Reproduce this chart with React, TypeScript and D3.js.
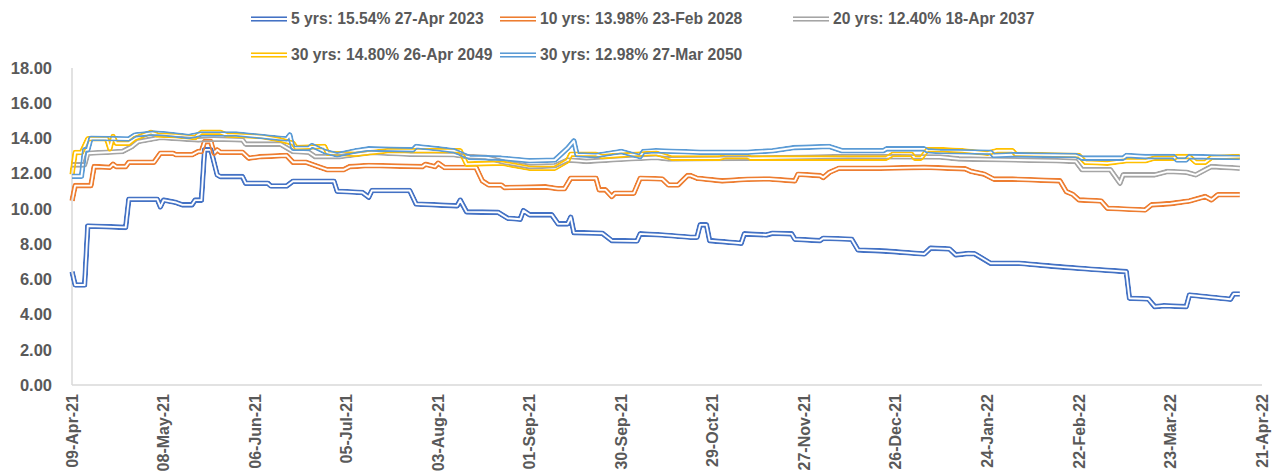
import React from "react";
import * as d3 from "d3";

// ---------- data ----------
const tickDates = [
  "2021-04-09", "2021-05-08", "2021-06-06", "2021-07-05", "2021-08-03", "2021-09-01", "2021-09-30",
  "2021-10-29", "2021-11-27", "2021-12-26", "2022-01-24", "2022-02-22", "2022-03-23", "2022-04-21",
];
const yTicks = [0, 2, 4, 6, 8, 10, 12, 14, 16, 18];

const seriesNames = [
  "5 yrs: 15.54% 27-Apr 2023",
  "10 yrs: 13.98% 23-Feb 2028",
  "20 yrs: 12.40% 18-Apr 2037",
  "30 yrs: 14.80% 26-Apr 2049",
  "30 yrs: 12.98% 27-Mar 2050",
];
const seriesColors = ["#4472C4", "#ED7D31", "#A5A5A5", "#FFC000", "#5B9BD5"];

const yrs5: [string, number][] = [
  ["2021-04-09", 6.44], ["2021-04-10", 5.68], ["2021-04-13", 5.68], ["2021-04-14", 9.03], ["2021-04-26", 8.95],
  ["2021-04-27", 10.55], ["2021-05-06", 10.55], ["2021-05-07", 10.11], ["2021-05-08", 10.5], ["2021-05-12", 10.36],
  ["2021-05-14", 10.23], ["2021-05-17", 10.23], ["2021-05-18", 10.5], ["2021-05-20", 10.5], ["2021-05-21", 13.35],
  ["2021-05-23", 13.35], ["2021-05-25", 11.93], ["2021-05-26", 11.83], ["2021-06-02", 11.83], ["2021-06-03", 11.46],
  ["2021-06-10", 11.46], ["2021-06-11", 11.3], ["2021-06-16", 11.3], ["2021-06-18", 11.57], ["2021-07-01", 11.57],
  ["2021-07-02", 11.0], ["2021-07-10", 10.93], ["2021-07-12", 10.66], ["2021-07-13", 11.04], ["2021-07-25", 11.04],
  ["2021-07-27", 10.28], ["2021-08-09", 10.17], ["2021-08-10", 10.5], ["2021-08-12", 9.83], ["2021-08-22", 9.8],
  ["2021-08-25", 9.47], ["2021-08-29", 9.41], ["2021-08-30", 9.9], ["2021-09-01", 9.66], ["2021-09-08", 9.66],
  ["2021-09-10", 9.15], ["2021-09-13", 9.15], ["2021-09-14", 9.53], ["2021-09-15", 8.65], ["2021-09-24", 8.62],
  ["2021-09-27", 8.2], ["2021-10-05", 8.18], ["2021-10-06", 8.58], ["2021-10-13", 8.52], ["2021-10-22", 8.39],
  ["2021-10-24", 8.39], ["2021-10-25", 9.09], ["2021-10-27", 9.09], ["2021-10-28", 8.2], ["2021-11-07", 8.05],
  ["2021-11-08", 8.58], ["2021-11-15", 8.52], ["2021-11-17", 8.62], ["2021-11-23", 8.58], ["2021-11-24", 8.28],
  ["2021-12-02", 8.2], ["2021-12-03", 8.33], ["2021-12-12", 8.28], ["2021-12-14", 7.67], ["2021-12-23", 7.6],
  ["2022-01-04", 7.44], ["2022-01-06", 7.77], ["2022-01-12", 7.72], ["2022-01-14", 7.39], ["2022-01-18", 7.47],
  ["2022-01-20", 7.45], ["2022-01-25", 6.91], ["2022-02-03", 6.91], ["2022-02-15", 6.72], ["2022-02-26", 6.57],
  ["2022-03-09", 6.44], ["2022-03-10", 4.93], ["2022-03-16", 4.88], ["2022-03-18", 4.45], ["2022-03-21", 4.5],
  ["2022-03-28", 4.45], ["2022-03-29", 5.11], ["2022-04-11", 4.87], ["2022-04-12", 5.17], ["2022-04-14", 5.17],
];

const yrs10: [string, number][] = [
  ["2021-04-09", 10.45], ["2021-04-10", 11.32], ["2021-04-15", 11.32], ["2021-04-16", 12.4], ["2021-04-21", 12.36],
  ["2021-04-22", 12.54], ["2021-04-23", 12.4], ["2021-04-26", 12.4], ["2021-04-27", 12.65], ["2021-05-05", 12.65],
  ["2021-05-07", 13.16], ["2021-05-11", 13.16], ["2021-05-12", 13.07], ["2021-05-17", 13.07], ["2021-05-19", 13.26],
  ["2021-05-20", 13.26], ["2021-05-21", 13.82], ["2021-05-23", 13.82], ["2021-05-24", 13.16], ["2021-05-25", 13.35],
  ["2021-05-26", 13.22], ["2021-06-02", 13.22], ["2021-06-04", 12.88], ["2021-06-08", 12.97], ["2021-06-16", 13.03],
  ["2021-06-18", 12.65], ["2021-06-22", 12.65], ["2021-06-26", 12.4], ["2021-06-29", 12.22], ["2021-07-04", 12.22],
  ["2021-07-06", 12.4], ["2021-07-12", 12.46], ["2021-07-29", 12.4], ["2021-07-30", 12.53], ["2021-08-02", 12.4],
  ["2021-08-03", 12.6], ["2021-08-05", 12.35], ["2021-08-15", 12.35], ["2021-08-17", 11.59], ["2021-08-19", 11.36],
  ["2021-08-23", 11.36], ["2021-08-24", 11.21], ["2021-09-06", 11.25], ["2021-09-10", 11.14], ["2021-09-12", 11.14],
  ["2021-09-14", 11.74], ["2021-09-22", 11.74], ["2021-09-23", 11.08], ["2021-09-25", 11.08], ["2021-09-27", 10.7],
  ["2021-09-28", 10.89], ["2021-10-04", 10.89], ["2021-10-06", 11.74], ["2021-10-13", 11.7], ["2021-10-15", 11.36],
  ["2021-10-18", 11.36], ["2021-10-21", 11.89], ["2021-10-22", 11.89], ["2021-10-24", 11.74], ["2021-11-01", 11.59],
  ["2021-11-09", 11.68], ["2021-11-16", 11.7], ["2021-11-24", 11.59], ["2021-11-25", 11.97], ["2021-12-02", 11.89],
  ["2021-12-03", 11.78], ["2021-12-05", 12.08], ["2021-12-08", 12.31], ["2021-12-21", 12.31], ["2022-01-04", 12.36],
  ["2022-01-17", 12.27], ["2022-01-19", 12.12], ["2022-01-23", 11.97], ["2022-01-26", 11.69], ["2022-02-01", 11.69],
  ["2022-02-16", 11.59], ["2022-02-18", 10.98], ["2022-02-20", 10.83], ["2022-02-22", 10.51], ["2022-03-01", 10.45],
  ["2022-03-03", 10.04], ["2022-03-15", 9.94], ["2022-03-17", 10.23], ["2022-03-23", 10.3], ["2022-03-29", 10.45],
  ["2022-04-03", 10.7], ["2022-04-05", 10.51], ["2022-04-07", 10.8], ["2022-04-14", 10.8],
];

const yrs20: [string, number][] = [
  ["2021-04-09", 12.5], ["2021-04-13", 12.5], ["2021-04-14", 13.16], ["2021-04-25", 13.26], ["2021-04-28", 13.54],
  ["2021-04-30", 13.82], ["2021-05-07", 14.05], ["2021-05-19", 13.92], ["2021-05-24", 13.97], ["2021-06-02", 13.92],
  ["2021-06-03", 13.68], ["2021-06-14", 13.68], ["2021-06-18", 13.26], ["2021-06-23", 13.22], ["2021-06-25", 12.97],
  ["2021-07-03", 12.97], ["2021-07-13", 13.2], ["2021-07-25", 13.1], ["2021-08-08", 13.07], ["2021-08-12", 12.97],
  ["2021-08-18", 12.93], ["2021-08-24", 12.65], ["2021-09-01", 12.4], ["2021-09-09", 12.45], ["2021-09-13", 12.78],
  ["2021-09-19", 12.7], ["2021-09-30", 12.82], ["2021-10-11", 12.92], ["2021-10-15", 12.84], ["2021-11-10", 12.88],
  ["2021-12-11", 12.97], ["2022-01-09", 12.95], ["2022-01-15", 12.84], ["2022-02-15", 12.73], ["2022-02-21", 12.7],
  ["2022-02-23", 12.22], ["2022-03-04", 12.22], ["2022-03-07", 11.46], ["2022-03-08", 11.93], ["2022-03-18", 11.93],
  ["2022-03-22", 12.12], ["2022-03-28", 12.08], ["2022-03-31", 11.93], ["2022-04-03", 12.22], ["2022-04-05", 12.4],
  ["2022-04-14", 12.31],
];

const yrs30a: [string, number][] = [
  ["2021-04-09", 11.95], ["2021-04-10", 13.2], ["2021-04-12", 13.2], ["2021-04-14", 13.98], ["2021-04-20", 13.98],
  ["2021-04-21", 13.41], ["2021-04-22", 14.11], ["2021-04-23", 13.73], ["2021-04-27", 13.73], ["2021-04-29", 14.01],
  ["2021-05-04", 14.35], ["2021-05-06", 14.2], ["2021-05-12", 14.15], ["2021-05-18", 14.05], ["2021-05-20", 14.35],
  ["2021-05-26", 14.35], ["2021-05-28", 14.2], ["2021-06-08", 14.11], ["2021-06-14", 13.92], ["2021-06-18", 13.73],
  ["2021-06-19", 13.48], ["2021-06-28", 13.54], ["2021-06-29", 13.16], ["2021-07-08", 13.1], ["2021-07-18", 13.3],
  ["2021-08-10", 13.3], ["2021-08-12", 12.54], ["2021-08-23", 12.6], ["2021-09-01", 12.31], ["2021-09-09", 12.31],
  ["2021-09-13", 12.73], ["2021-09-14", 13.1], ["2021-09-22", 13.1], ["2021-09-24", 12.97], ["2021-10-02", 13.07],
  ["2021-10-11", 13.16], ["2021-10-16", 12.88], ["2021-10-31", 12.88], ["2021-11-02", 12.97], ["2021-11-09", 12.97],
  ["2021-11-10", 12.88], ["2021-12-23", 12.88], ["2021-12-25", 13.1], ["2021-12-31", 13.1], ["2022-01-01", 12.88],
  ["2022-01-03", 12.88], ["2022-01-05", 13.35], ["2022-01-10", 13.35], ["2022-01-16", 13.3], ["2022-01-24", 13.16],
  ["2022-01-27", 13.3], ["2022-02-01", 13.3], ["2022-02-02", 13.1], ["2022-02-22", 13.03], ["2022-02-24", 12.65],
  ["2022-03-03", 12.6], ["2022-03-09", 12.73], ["2022-03-15", 12.73], ["2022-03-18", 12.88], ["2022-03-24", 12.88],
  ["2022-03-25", 12.97], ["2022-03-29", 12.97], ["2022-03-31", 12.65], ["2022-04-03", 12.65], ["2022-04-05", 12.92],
  ["2022-04-14", 12.97],
];

const yrs30b: [string, number][] = [
  ["2021-04-09", 11.85], ["2021-04-12", 11.85], ["2021-04-13", 13.35], ["2021-04-14", 13.35], ["2021-04-15", 14.01],
  ["2021-04-27", 13.97], ["2021-04-29", 14.2], ["2021-05-05", 14.3], ["2021-05-09", 14.25], ["2021-05-16", 14.11],
  ["2021-05-20", 14.25], ["2021-05-31", 14.25], ["2021-06-08", 14.11], ["2021-06-16", 13.97], ["2021-06-17", 14.2],
  ["2021-06-18", 13.44], ["2021-06-23", 13.44], ["2021-06-24", 13.6], ["2021-06-28", 13.26], ["2021-07-02", 13.07],
  ["2021-07-08", 13.3], ["2021-07-12", 13.41], ["2021-07-26", 13.35], ["2021-07-27", 13.54], ["2021-08-03", 13.41],
  ["2021-08-08", 13.3], ["2021-08-13", 12.92], ["2021-08-23", 12.88], ["2021-09-01", 12.73], ["2021-09-09", 12.78],
  ["2021-09-13", 13.44], ["2021-09-15", 13.86], ["2021-09-16", 13.07], ["2021-09-22", 13.03], ["2021-09-30", 13.26],
  ["2021-10-06", 12.97], ["2021-10-07", 13.26], ["2021-10-11", 13.3], ["2021-10-25", 13.22], ["2021-11-09", 13.22],
  ["2021-11-17", 13.3], ["2021-11-24", 13.48], ["2021-12-05", 13.54], ["2021-12-09", 13.3], ["2021-12-22", 13.3],
  ["2021-12-23", 13.41], ["2022-01-04", 13.41], ["2022-01-05", 13.3], ["2022-01-09", 13.26], ["2022-01-25", 13.22],
  ["2022-01-26", 13.03], ["2022-02-01", 13.07], ["2022-02-21", 13.03], ["2022-02-23", 12.88], ["2022-03-08", 12.88],
  ["2022-03-09", 13.03], ["2022-03-15", 12.97], ["2022-03-24", 12.97], ["2022-03-25", 12.78], ["2022-03-28", 12.78],
  ["2022-03-29", 12.97], ["2022-04-14", 12.92],
];

const seriesData = [yrs5, yrs10, yrs20, yrs30a, yrs30b];

// ---------- layout ----------
const W = 1277;
const H = 476;
const margin = { left: 72, right: 15, top: 68, bottom: 91 };
const FONT = "'Liberation Sans', Arial, sans-serif";
const TEXT = "#595959";
const AXIS = "#D9D9D9";
const OUTER = 5.6;
const INNER = 1.9;

const parse = d3.timeParse("%Y-%m-%d");
const fmtTick = d3.timeFormat("%d-%b-%y");

export default function App() {
  const x = d3
    .scaleTime()
    .domain([parse(tickDates[0])!, parse(tickDates[tickDates.length - 1])!])
    .range([margin.left, W - margin.right]);
  const y = d3.scaleLinear().domain([0, 18]).range([H - margin.bottom, margin.top]);

  const line = d3
    .line<[string, number]>()
    .x((d) => x(parse(d[0])!))
    .y((d) => y(d[1]));

  const y0 = y(0);

  // legend grid
  const legendCols = [251, 500, 793];
  const legendRows = [19, 55];

  return (
    <svg
      width={W}
      height={H}
      style={{ position: "fixed", left: 0, top: 0, display: "block", background: "#fff" }}
      fontFamily={FONT}
    >
      <defs>
        {seriesData.map((s, i) => (
          <mask key={i} id={`m${i}`} maskUnits="userSpaceOnUse" x={0} y={0} width={W} height={H}>
            <path d={line(s) || ""} fill="none" stroke="#fff" strokeWidth={OUTER} strokeLinejoin="round" />
            <path d={line(s) || ""} fill="none" stroke="#000" strokeWidth={INNER} strokeLinejoin="round" />
          </mask>
        ))}
        {seriesData.map((s, i) => (
          <mask key={"l" + i} id={`lm${i}`} maskUnits="userSpaceOnUse" x={0} y={0} width={W} height={H}>
            <line
              x1={legendCols[i % 3]}
              x2={legendCols[i % 3] + 36}
              y1={legendRows[Math.floor(i / 3)]}
              y2={legendRows[Math.floor(i / 3)]}
              stroke="#fff"
              strokeWidth={OUTER}
            />
            <line
              x1={legendCols[i % 3] - 1}
              x2={legendCols[i % 3] + 37}
              y1={legendRows[Math.floor(i / 3)]}
              y2={legendRows[Math.floor(i / 3)]}
              stroke="#000"
              strokeWidth={INNER}
            />
          </mask>
        ))}
      </defs>

      {/* axes lines */}
      <line x1={margin.left} x2={margin.left} y1={margin.top} y2={y0} stroke={AXIS} strokeWidth={1.5} />
      <line x1={margin.left} x2={W - margin.right} y1={y0} y2={y0} stroke={AXIS} strokeWidth={1.5} />

      {/* y tick labels */}
      {yTicks.map((t) => (
        <text
          key={t}
          x={52}
          y={y(t)}
          dy="0.35em"
          textAnchor="end"
          fontSize={16.5}
          fontWeight="bold"
          fill={TEXT}
        >
          {t.toFixed(2)}
        </text>
      ))}

      {/* x tick labels */}
      {tickDates.map((t) => {
        const px = x(parse(t)!);
        return (
          <text
            key={t}
            transform={`translate(${px},${y0 + 9}) rotate(-90)`}
            dy="0.35em"
            textAnchor="end"
            fontSize={16}
            fontWeight="bold"
            fill={TEXT}
          >
            {fmtTick(parse(t)!)}
          </text>
        );
      })}

      {/* series */}
      {seriesData.map((s, i) => (
        <path
          key={i}
          d={line(s) || ""}
          fill="none"
          stroke={seriesColors[i]}
          strokeWidth={OUTER}
          strokeLinejoin="round"
          mask={`url(#m${i})`}
        />
      ))}

      {/* legend */}
      {seriesNames.map((name, i) => {
        const lx = legendCols[i % 3];
        const ly = legendRows[Math.floor(i / 3)];
        return (
          <g key={name}>
            <line
              x1={lx}
              x2={lx + 36}
              y1={ly}
              y2={ly}
              stroke={seriesColors[i]}
              strokeWidth={OUTER}
              mask={`url(#lm${i})`}
            />
            <text x={lx + 40} y={ly} dy="0.35em" fontSize={15.7} fontWeight="bold" fill={TEXT}>
              {name}
            </text>
          </g>
        );
      })}
    </svg>
  );
}
